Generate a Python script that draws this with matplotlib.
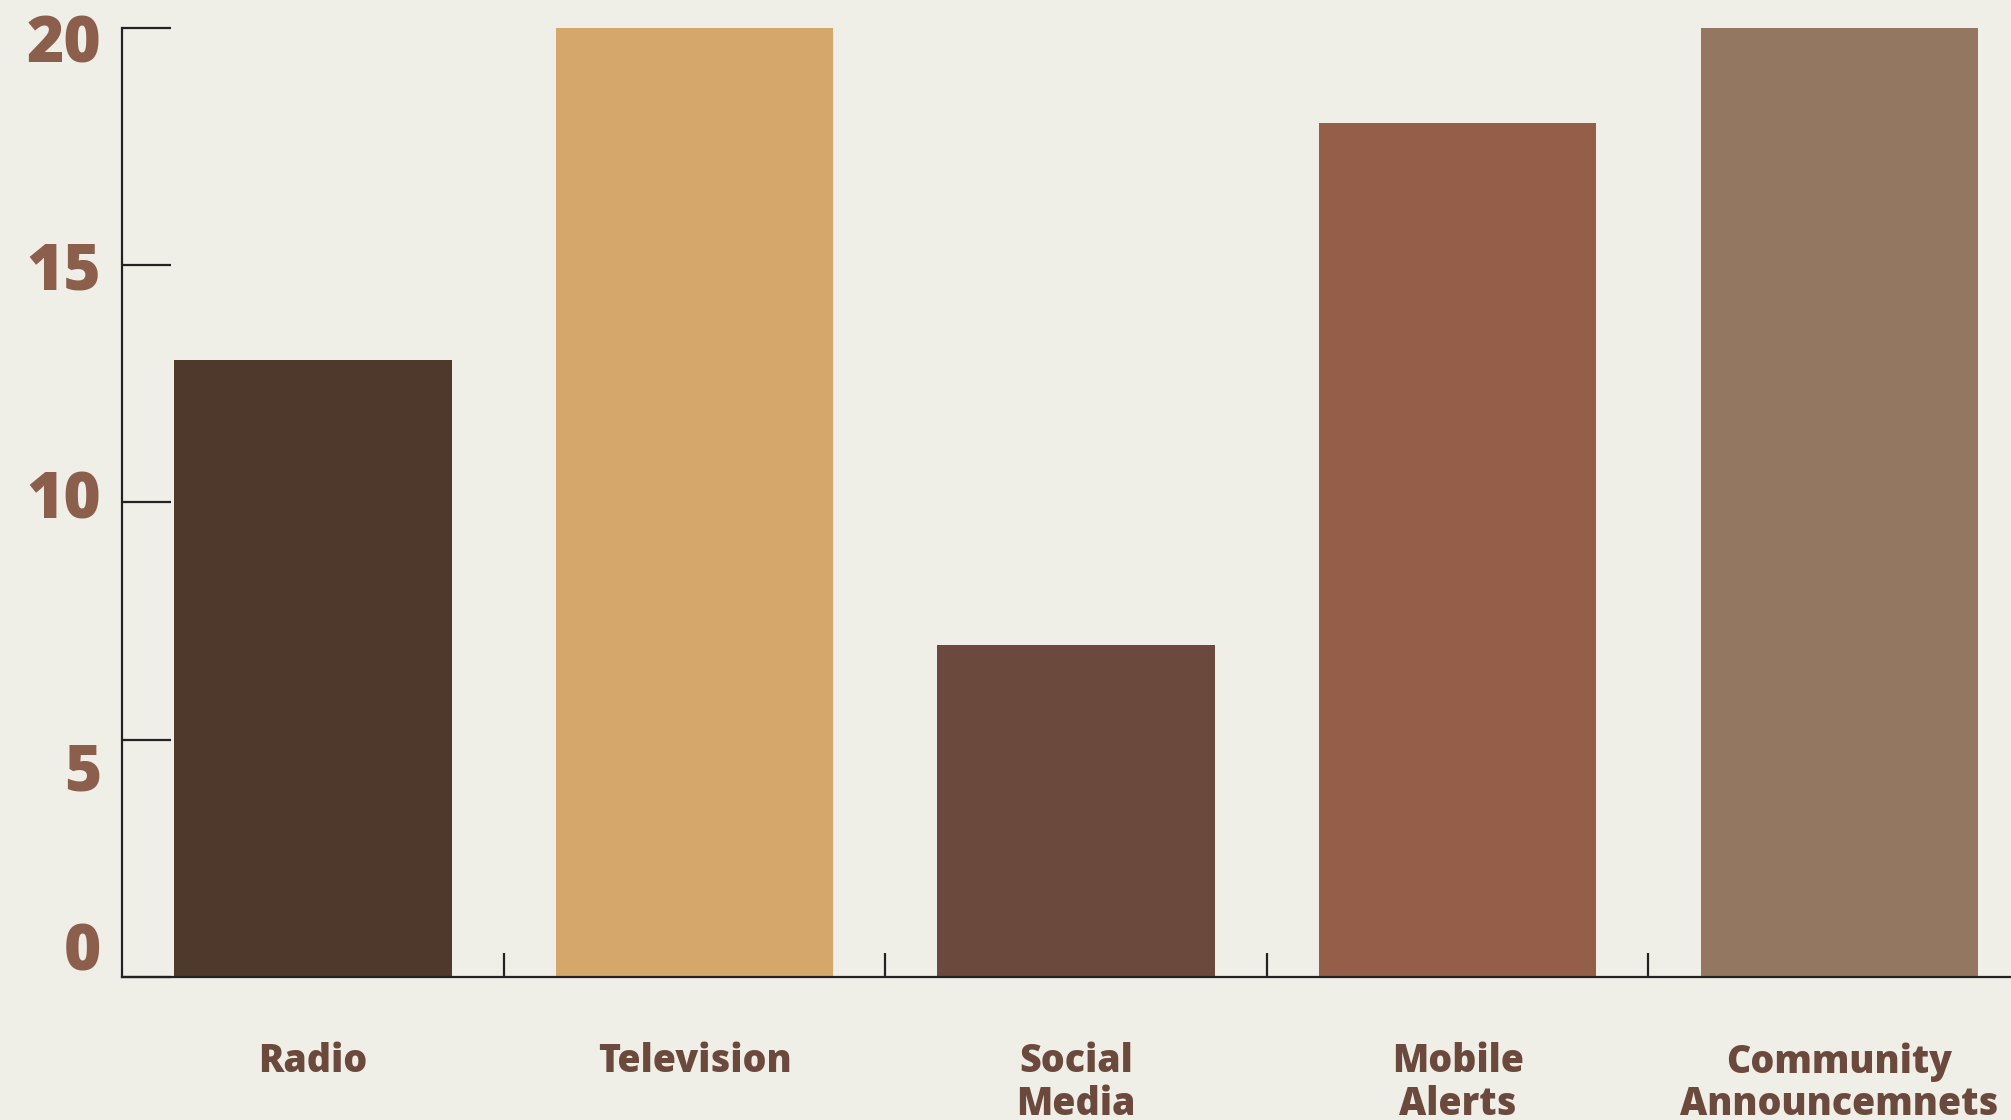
import matplotlib
matplotlib.use("Agg")
import matplotlib.pyplot as plt
from matplotlib.transforms import ScaledTranslation

categories = ["Radio", "Television", "Social\nMedia", "Mobile\nAlerts", "Community\nAnnouncemnets"]
values = [13, 20, 7, 18, 20]
bar_colors = ["#4F382C", "#D6A76A", "#6B4A3D", "#955E49", "#947761"]
y_ticks = [0, 5, 10, 15, 20]
y_tick_labels = ["0", "5", "10", "15", "20"]

bg = "#EFEEE7"
plt.rcParams['font.family'] = ['Open Sans', 'DejaVu Sans']

fig = plt.figure(figsize=(20.11, 11.2), dpi=100, facecolor=bg)
ax = fig.add_axes([0.0607, 0.1277, 0.9393, 0.8473])
ax.set_facecolor(bg)

x = list(range(len(categories)))
ax.bar(x, values, width=0.727, color=bar_colors, zorder=1)

ax.set_xlim(-0.5, 4.45)
ax.set_ylim(0, 20)

for s in ["top", "right"]:
    ax.spines[s].set_visible(False)
for s in ["left", "bottom"]:
    ax.spines[s].set_color("#222222")
    ax.spines[s].set_linewidth(1.6)
    ax.spines[s].set_zorder(3)

# y axis
ax.set_yticks(y_ticks)
ax.set_yticklabels(y_tick_labels)
ax.tick_params(axis="y", direction="in", length=35, width=1.6, color="#222222",
               pad=15, labelsize=46, labelcolor="#8C5F4C")
for lab in ax.get_yticklabels():
    lab.set_fontweight(800)

# small per-label vertical nudges (points) to match the reference
nudges = {"0": 22, "5": -19, "10": 6, "15": 0, "20": -7}
for lab in ax.get_yticklabels():
    dy = nudges.get(lab.get_text(), 0)
    lab.set_transform(lab.get_transform() + ScaledTranslation(0, dy / 72, fig.dpi_scale_trans))

# x axis: boundary ticks (major) and category labels (minor)
ax.set_xticks([i + 0.5 for i in x[:-1]])
ax.set_xticklabels([])
ax.tick_params(axis="x", which="major", direction="in", length=17, width=1.6, color="#222222")
ax.set_xticks(x, minor=True)
ax.set_xticklabels(categories, minor=True, fontsize=27, fontweight=800,
                   color="#6B4A3D", linespacing=1.12)
ax.tick_params(axis="x", which="minor", length=0, pad=47)

fig.savefig("out.png", dpi=100, facecolor=bg)
